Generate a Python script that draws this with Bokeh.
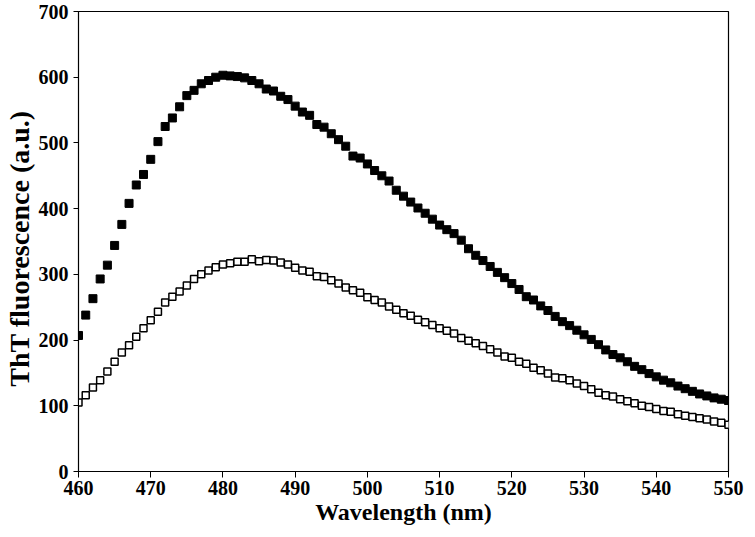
from bokeh.plotting import figure
from bokeh.embed import file_html
from bokeh.resources import INLINE
from bokeh.models import FixedTicker, Range1d

wavelength = list(range(460, 551))

tht_filled = [
    207, 238, 263, 293, 314, 344, 376, 408, 436, 452,
    475, 502, 525, 538, 555, 572, 580, 590, 595, 600,
    603, 602, 601, 599, 595, 590, 582, 579, 571, 566,
    556, 547, 542, 528, 524, 514, 505, 495, 480, 477,
    468, 458, 450, 442, 428, 419, 410, 401, 393, 384,
    375, 368, 362, 352, 339, 329, 321, 312, 303, 295,
    286, 277, 266, 261, 252, 245, 236, 228, 222, 215,
    208, 201, 193, 185, 178, 173, 167, 160, 155, 149,
    144, 139, 135, 130, 126, 122, 118, 115, 112, 110,
    108,
]

tht_open = [
    105, 116, 128, 139, 152, 167, 181, 192, 205, 218,
    230, 243, 257, 266, 274, 283, 293, 300, 306, 311,
    315, 317, 319, 319, 323, 320, 322, 321, 318, 315,
    310, 306, 304, 297, 296, 291, 286, 280, 276, 272,
    265, 261, 257, 251, 246, 241, 237, 231, 227, 223,
    218, 214, 210, 203, 199, 195, 191, 186, 181, 175,
    173, 167, 164, 158, 154, 149, 143, 142, 139, 134,
    130, 125, 120, 116, 114, 110, 107, 104, 100, 98,
    95, 92, 91, 87, 85, 83, 81, 79, 76, 74,
    71,
]

x_ticks = [460, 470, 480, 490, 500, 510, 520, 530, 540, 550]
y_ticks = [0, 100, 200, 300, 400, 500, 600, 700]

FONT = "Liberation Serif"

p = figure(width=755, height=537, output_backend="svg", toolbar_location=None,
           x_range=Range1d(460, 550), y_range=Range1d(0, 700),
           min_border_left=75, min_border_right=27, min_border_top=11,
           min_border_bottom=66)

p.background_fill_color = "white"
p.border_fill_color = "white"
p.outline_line_color = "black"
p.outline_line_width = 1.2
p.xgrid.visible = False
p.ygrid.visible = False

p.xaxis.ticker = FixedTicker(ticks=x_ticks)
p.yaxis.ticker = FixedTicker(ticks=y_ticks)

for ax in (p.xaxis[0], p.yaxis[0]):
    ax.axis_line_color = "black"
    ax.axis_line_width = 1
    ax.major_tick_line_color = "black"
    ax.major_tick_in = 0
    ax.minor_tick_line_color = None
    ax.major_label_text_font = FONT
    ax.major_label_text_font_style = "bold"
    ax.major_label_text_font_size = "20px"
    ax.major_label_text_color = "black"
    ax.axis_label_text_font = FONT
    ax.axis_label_text_font_style = "bold"
    ax.axis_label_text_color = "black"

p.xaxis.major_tick_out = 6
p.xaxis.major_label_standoff = 3
p.xaxis.axis_label = "Wavelength (nm)"
p.xaxis.axis_label_text_font_size = "24px"
p.xaxis.axis_label_standoff = 1

p.yaxis.major_tick_out = 5
p.yaxis.major_label_standoff = 5
p.yaxis.axis_label = "ThT  fluorescence  (a.u.)"
p.yaxis.axis_label_text_font_size = "28px"
p.yaxis.axis_label_standoff = 1

p.scatter(wavelength, tht_filled, marker="square", size=8,
          fill_color="black", line_color="black")
p.scatter(wavelength, tht_open, marker="square", size=7,
          fill_color="white", line_color="black", line_width=1.5)

open("out.html", "w").write(file_html(p, INLINE))
